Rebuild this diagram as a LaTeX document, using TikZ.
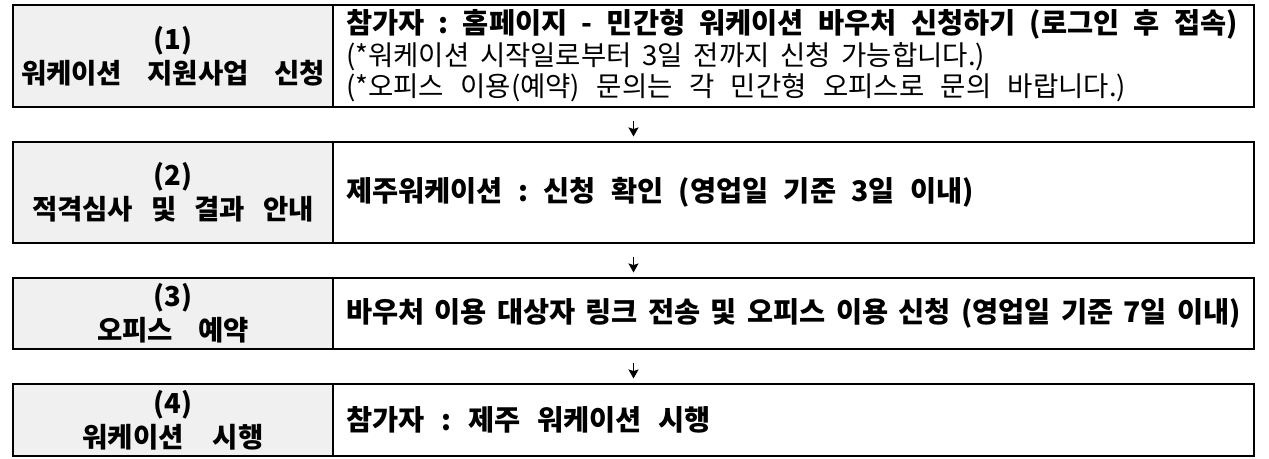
\documentclass[tikz,border=0pt]{standalone}
\usepackage{fontspec}
\setmainfont{Noto Sans CJK KR}
\usetikzlibrary{arrows.meta,calc}
\definecolor{cellgray}{RGB}{240,240,240}
\newcommand{\labfont}{\fontsize{27.5}{34}\selectfont\bfseries}
\newcommand{\bodyfont}{\fontsize{28.4}{31.5}\selectfont\bfseries}
\newcommand{\regfont}{\fontsize{27.5}{31.5}\selectfont\mdseries}
\newcommand{\fitline}[2]{\makebox[#1pt][s]{\frenchspacing\spaceskip=0.1em plus 1fil\xspaceskip=0.1em plus 1fil\relax #2}}
\tikzset{
  cell/.style={draw=black, line width=1.2pt, rectangle, inner sep=0pt, outer sep=0pt, text=black},
  labelcell/.style={cell, fill=cellgray, align=center, text width=320pt, font=\labfont, anchor=north west},
  bodycell/.style={cell, fill=white, align=left, text width=895pt, inner xsep=13pt, font=\bodyfont, anchor=north west},
  flow/.style={-{Stealth[length=9pt,width=10pt,inset=1.5pt]}, line width=1.5pt, shorten <=13.5pt, shorten >=5.5pt}
}
\begin{document}
\begin{tikzpicture}[x=1pt,y=-1pt]
\useasboundingbox (0,0) rectangle (1269,458);
% row 1
\node[labelcell, minimum height=102pt] (l1) at (13,5) {(1)\\\fitline{304}{워케이션 지원사업 신청}};
\node[bodycell, minimum height=102pt] (b1) at (333,5) {\fitline{892}{참가자 : 홈페이지 - 민간형 워케이션 바우처 신청하기 (로그인 후 접속)}\\
{\regfont\fitline{639}{(*워케이션 시작일로부터 3일 전까지 신청 가능합니다.)}}\\
{\regfont\fitline{780}{(*오피스 이용(예약) 문의는 각 민간형 오피스로 문의 바랍니다.)}}};
% row 2
\node[labelcell, minimum height=101pt] (l2) at (13,142) {(2)\\\fitline{282}{적격심사 및 결과 안내}};
\node[bodycell, minimum height=101pt] (b2) at (333,142) {\fitline{628}{제주워케이션 : 신청 확인 (영업일 기준 3일 이내)}};
% row 3
\node[labelcell, minimum height=71pt] (l3) at (13,278) {(3)\\\fitline{152}{오피스 예약}};
\node[bodycell, minimum height=71pt] (b3) at (333,278) {\fitline{895}{바우처 이용 대상자 링크 전송 및 오피스 이용 신청 (영업일 기준 7일 이내)}};
% row 4
\node[labelcell, minimum height=72pt] (l4) at (13,384) {(4)\\\fitline{181}{워케이션 시행}};
\node[bodycell, minimum height=72pt] (b4) at (333,384) {\fitline{365}{참가자 : 제주 워케이션 시행}};
% arrows
\draw[flow] ($(l1.south west)!0.5!(b1.south east)$) -- ($(l2.north west)!0.5!(b2.north east)$);
\draw[flow] ($(l2.south west)!0.5!(b2.south east)$) -- ($(l3.north west)!0.5!(b3.north east)$);
\draw[flow] ($(l3.south west)!0.5!(b3.south east)$) -- ($(l4.north west)!0.5!(b4.north east)$);
\end{tikzpicture}
\end{document}
